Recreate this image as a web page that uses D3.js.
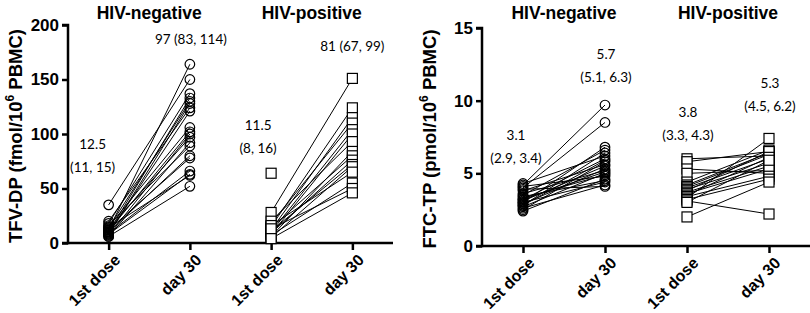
<!DOCTYPE html>
<html>
<head>
<meta charset="utf-8">
<script src="https://cdn.jsdelivr.net/npm/d3@7"></script>
<style>
  body { margin: 0; background: #fff; }
  svg text { font-family: "Liberation Sans", Arial, sans-serif; }
</style>
</head>
<body>
<div id="container"></div>
<script>
/* DATA */
const categories = ["neg-1st", "neg-d30", "pos-1st", "pos-d30"];
const tickLabels = ["1st dose", "day 30", "1st dose", "day 30"];
const groupTitles = ["HIV-negative", "HIV-positive"];

// TFV-DP, pairs of [1st dose, day 30]
const tfvNeg = [[12,164],[35,150],[18,137],[10,133],[14,130],[8,128],[20,124],[9,121],[15,106],[11,102],
                [7,100],[13,97],[6,92],[16,89],[10,80],[12,78],[9,66],[8,63],[14,62],[6,52]];
const tfvPos = [[28,151],[15,124],[12,115],[18,110],[10,104],[8,100],[20,93],[6,84],[14,80],[9,76],
                [11,72],[5,70],[16,65],[7,55],[13,50],[4,46],[64,null]];
// FTC-TP, pairs of [1st dose, day 30]
const ftcNeg = [[4.2,9.7],[4.0,8.5],[3.0,6.8],[3.5,6.6],[2.8,6.4],[4.3,6.2],[3.2,6.0],[2.5,5.8],[3.8,5.6],[3.1,5.5],
                [2.9,5.3],[3.6,5.2],[2.7,5.0],[3.3,4.9],[4.1,4.8],[2.4,4.6],[3.4,4.5],[3.0,4.4],[2.6,4.2],[3.9,4.1],[3.2,5.1],[2.8,5.9]];
const ftcPos = [[6.0,6.2],[5.8,6.5],[5.3,5.0],[5.0,5.2],[4.4,6.6],[4.2,6.4],[4.1,6.3],[4.0,6.0],[3.9,5.7],[3.8,6.5],
                [3.7,5.5],[3.6,5.3],[3.5,6.1],[3.4,4.8],[3.3,7.4],[3.2,4.6],[3.1,2.2],[3.0,5.9],[2.0,4.4]];

// medians (IQR) text
const tfvNotes = [["12.5", "(11, 15)"], ["97 (83, 114)"], ["11.5", "(8, 16)"], ["81 (67, 99)"]];
const ftcNotes = [["3.1", "(2.9, 3.4)"], ["5.7", "(5.1, 6.3)"], ["3.8", "(3.3, 4.3)"], ["5.3", "(4.5, 6.2)"]];

const svg = d3.select("#container").append("svg")
  .attr("width", 810).attr("height", 313);

function drawPanel(p) {
  const x = d3.scalePoint().domain(categories).range([p.left, p.right]).padding(0.5);
  const y = d3.scaleLinear().domain([0, p.max]).range([p.bottom, p.top]);
  const g = svg.append("g");

  // titles
  groupTitles.forEach((t, i) => {
    g.append("text")
      .attr("x", (x(categories[i*2]) + x(categories[i*2+1])) / 2)
      .attr("y", 19)
      .attr("text-anchor", "middle")
      .attr("font-size", "17.5px").attr("font-weight", "bold")
      .text(t);
  });

  // y axis
  const yAxis = g.append("g")
    .attr("transform", `translate(${p.left},0)`)
    .call(d3.axisLeft(y).tickValues(p.ticks).tickSize(6).tickPadding(3).tickFormat(d3.format("d")));
  yAxis.select(".domain").attr("d", `M-6,${p.bottom}H0V${p.top}H-6`).attr("stroke-width", 2.5);
  yAxis.selectAll(".tick line").attr("stroke-width", 2.5);
  yAxis.selectAll("text").attr("font-size", "17px").attr("font-weight", "bold")
    .attr("font-family", "Liberation Sans, Arial, sans-serif").attr("fill", "#000");

  // x axis
  const xAxis = g.append("g")
    .attr("transform", `translate(0,${p.bottom})`)
    .call(d3.axisBottom(x).tickSize(7).tickFormat((d, i) => tickLabels[i]));
  xAxis.select(".domain").attr("d", `M${p.left},0H${p.right}`).attr("stroke-width", 2.5);
  xAxis.selectAll(".tick line").attr("stroke-width", 2.5);
  xAxis.selectAll("text")
    .attr("font-size", "16px").attr("font-weight", "bold")
    .attr("font-family", "Liberation Sans, Arial, sans-serif").attr("fill", "#000")
    .attr("text-anchor", "end")
    .attr("dy", null)
    .attr("transform", "translate(5,11) rotate(-45)");

  // y label
  const lab = g.append("text")
    .attr("transform", `translate(${p.labelX},${(p.top + p.bottom) / 2 + 2}) rotate(-90)`)
    .attr("text-anchor", "middle")
    .attr("font-size", "18.5px").attr("font-weight", "bold");
  lab.append("tspan").text(p.label[0]);
  lab.append("tspan").attr("font-size", "12px").attr("dy", -8).text("6");
  lab.append("tspan").attr("dy", 8).text(p.label[1]);

  // paired lines and markers
  [p.neg, p.pos].forEach((set, gi) => {
    const c0 = categories[gi*2], c1 = categories[gi*2+1];
    g.append("g").selectAll("line")
      .data(set.filter(d => d[1] != null))
      .join("line")
      .attr("x1", x(c0)).attr("x2", x(c1))
      .attr("y1", d => y(d[0])).attr("y2", d => y(d[1]))
      .attr("stroke", "#000").attr("stroke-width", 1);
    const pts = [];
    set.forEach(d => {
      pts.push({c: c0, v: d[0]});
      if (d[1] != null) pts.push({c: c1, v: d[1]});
    });
    const mg = g.append("g");
    if (gi === 0) {
      mg.selectAll("circle").data(pts).join("circle")
        .attr("cx", d => x(d.c)).attr("cy", d => y(d.v)).attr("r", 4.8)
        .attr("fill", "none").attr("stroke", "#000").attr("stroke-width", 1.2);
    } else {
      mg.selectAll("rect").data(pts).join("rect")
        .attr("x", d => x(d.c) - 5).attr("y", d => y(d.v) - 5)
        .attr("width", 10).attr("height", 10)
        .attr("fill", "#fff").attr("stroke", "#000").attr("stroke-width", 1.2);
    }
  });

  // median annotations
  p.notes.forEach((lines, i) => {
    const t = g.append("text")
      .attr("text-anchor", "middle")
      .attr("font-size", "13.5px")
      .style("font-family", "Lato, 'Open Sans', sans-serif");
    lines.forEach((s, j) => {
      t.append("tspan")
        .attr("x", x(categories[i]) + p.noteDx[i])
        .attr("y", y(p.noteY[i]) + j * 23)
        .text(s);
    });
  });
}

drawPanel({
  left: 68, right: 393, top: 25, bottom: 243, max: 200, ticks: [0, 50, 100, 150, 200],
  labelX: 22, label: ["TFV-DP (fmol/10", " PBMC)"],
  neg: tfvNeg, pos: tfvPos, notes: tfvNotes,
  noteY: [86, 183, 104, 176], noteDx: [-16, 1, -13, 0]
});

drawPanel({
  left: 482, right: 810, top: 28, bottom: 246, max: 15, ticks: [0, 5, 10, 15],
  labelX: 436, label: ["FTC-TP (pmol/10", " PBMC)"],
  neg: ftcNeg, pos: ftcPos, notes: ftcNotes,
  noteY: [7.3, 12.9, 8.9, 10.9], noteDx: [-7, 1, 1, 1]
});
</script>
</body>
</html>
